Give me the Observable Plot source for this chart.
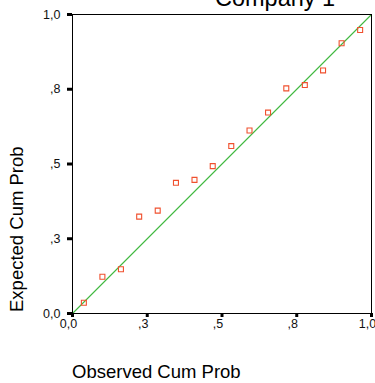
<!DOCTYPE html>
<html>
<head>
<meta charset="utf-8">
<script src="https://cdn.jsdelivr.net/npm/d3@7"></script>
<script src="https://cdn.jsdelivr.net/npm/@observablehq/plot@0.6"></script>
<style>
  html, body { margin: 0; padding: 0; background: #fff; }
  #chart { position: relative; width: 375px; height: 383px; overflow: hidden; font-family: "Liberation Sans", Arial, sans-serif; }
  #chart svg { position: absolute; left: 0; top: 0; }
  .lbl { position: absolute; white-space: nowrap; color: #000; }
  #title { left: 215px; top: -14px; font-size: 23.5px; line-height: 24px; }
  #xlabel { left: 72px; top: 363px; font-size: 18.5px; line-height: 18px; }
  #ylabel { left: 8px; top: 312px; font-size: 18.5px; line-height: 18px; transform-origin: 0 0; transform: rotate(-90deg); }
</style>
</head>
<body>
<div id="chart">
  <div class="lbl" id="title">Company 1</div>
  <div class="lbl" id="xlabel">Observed Cum Prob</div>
  <div class="lbl" id="ylabel">Expected Cum Prob</div>
</div>
<script>
// Normal P-P plot: observed vs expected cumulative probability
const observedCumProb = [0.038, 0.100, 0.162, 0.223, 0.285, 0.346, 0.408, 0.469,
                         0.531, 0.592, 0.654, 0.715, 0.777, 0.838, 0.900, 0.962];
const expectedCumProb = [0.036, 0.123, 0.148, 0.324, 0.344, 0.437, 0.447, 0.493,
                         0.560, 0.612, 0.672, 0.753, 0.764, 0.813, 0.904, 0.948];

// axis ticks (labels use one-decimal comma rounding)
const tickValues = [0, 0.25, 0.5, 0.75, 1];
const tickLabels = ["0,0", ",3", ",5", ",8", "1,0"];

// identity reference line endpoints
const diagonal = [0, 1];

const points = observedCumProb.map((x, i) => ({x, y: expectedCumProb[i]}));
const fmt = d => tickLabels[tickValues.indexOf(d)];

const plot = Plot.plot({
  width: 375,
  height: 383,
  marginLeft: 72,
  marginRight: 4,
  marginTop: 14,
  marginBottom: 70,
  style: {fontFamily: "'Liberation Sans', Arial, sans-serif", background: "transparent", overflow: "visible"},
  x: {domain: [0, 1]},
  y: {domain: [0, 1]},
  marks: [
    Plot.link([diagonal], {x1: d => d[0], y1: d => d[0], x2: d => d[1], y2: d => d[1], stroke: "#3fb83f", strokeWidth: 1.1}),
    Plot.dot(points, {x: "x", y: "y", symbol: "square", r: 2.8, fill: "none", stroke: "#f0502e", strokeWidth: 1.1}),
    Plot.frame({stroke: "#000", strokeWidth: 1}),
    // tick marks
    Plot.axisX({ticks: tickValues, tickFormat: () => "", tickSize: 4, strokeWidth: 3, stroke: "#000", label: null}),
    Plot.axisY({ticks: tickValues, tickFormat: () => "", tickSize: 5, strokeWidth: 3, stroke: "#000", label: null}),
    // tick labels
    Plot.axisX({ticks: tickValues, tickFormat: fmt, tickSize: 0, tickPadding: 6, dx: -4, fill: "#111", fontSize: 12.5, label: null}),
    Plot.axisY({ticks: tickValues, tickFormat: fmt, tickSize: 0, tickPadding: 12, fill: "#111", fontSize: 12.5, label: null})
  ]
});
document.getElementById("chart").prepend(plot);
</script>
</body>
</html>
